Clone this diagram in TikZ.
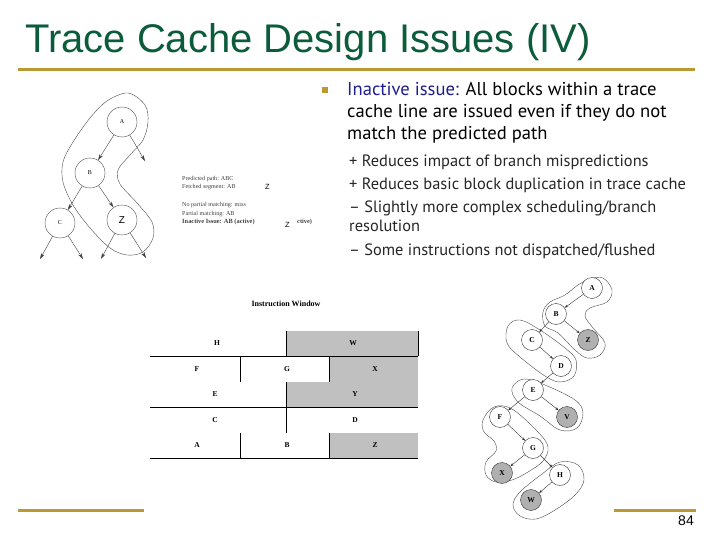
\documentclass[tikz,border=0pt]{standalone}
\usepackage{fontspec}
\setmainfont{Liberation Serif}
\newfontfamily\titlefont{Liberation Sans}
\newfontfamily\bodyfont{PT Sans}
\usetikzlibrary{arrows.meta}
\definecolor{gold}{RGB}{186,152,52}
\definecolor{titlegreen}{RGB}{10,92,58}
\definecolor{issueblue}{RGB}{30,30,140}
\definecolor{cellgray}{RGB}{192,192,192}
\definecolor{nodegray}{RGB}{176,176,176}
\begin{document}
\begin{tikzpicture}[x=1pt,y=-1pt,
  goldline/.style={gold,line width=3pt},
  bodytext/.style={anchor=base west,inner sep=0pt,font=\bodyfont\fontsize{18.6}{20}\selectfont},
  subtext/.style={anchor=base west,inner sep=0pt,text=black!85,font=\bodyfont\fontsize{16.4}{18}\selectfont},
  lcirc/.style={circle,draw=black!70,thin,minimum size=30pt,inner sep=0pt,font=\fontsize{6}{7}\selectfont},
  larr/.style={draw=black!75,thin,-{Stealth[length=6pt,width=3.5pt]},shorten >=0pt},
  outline/.style={draw=black!70,thin},
  ann/.style={anchor=base west,inner sep=0pt,text=black!75,font=\fontsize{6.1}{7}\selectfont},
  zmark/.style={anchor=base west,inner sep=0pt,font=\titlefont\fontsize{7.5}{8}\selectfont},
  rcirc/.style={circle,draw=black!80,thin,minimum size=21pt,inner sep=0pt,fill=white,font=\bfseries\fontsize{7.5}{8}\selectfont},
  rgray/.style={rcirc,fill=nodegray},
  rarr/.style={draw=black!80,thin,-{Stealth[length=3.5pt,width=2.5pt]}},
  cell/.style={inner sep=0pt,font=\bfseries\fontsize{7.5}{8}\selectfont},
  tline/.style={draw=black,line width=0.9pt}
]
\useasboundingbox (0,0) rectangle (720,540);

% title and rules
\node[anchor=base west,inner sep=0pt,text=titlegreen,font=\titlefont\fontsize{40}{42}\selectfont] (title) at (25,53) {Trace Cache Design Issues (IV)};
\draw[goldline] (18,70) -- (695,70);
\draw[goldline] (18,510) -- (144,510);
\draw[goldline] (614,510) -- (696,510);
\node[anchor=base east,inner sep=0pt,font=\titlefont\fontsize{14}{14}\selectfont] (pnum) at (694,525) {84};

% bullet text
\fill[gold] (322,87) rectangle (328,93);
\node[bodytext] (l1) at (347,96) {\textcolor{issueblue}{Inactive issue:} All blocks within a trace};
\node[bodytext] (l2) at (347,118) {cache line are issued even if they do not};
\node[bodytext] (l3) at (347,140) {match the predicted path};
\node[subtext] (s1) at (349,167) {+ Reduces impact of branch mispredictions};
\node[subtext] (s2) at (349,190) {+ Reduces basic block duplication in trace cache};
\node[subtext] (s3) at (349,212) {– Slightly more complex scheduling/branch};
\node[subtext] (s4) at (349,232) {resolution};
\node[subtext] (s5) at (349,255) {– Some instructions not dispatched/flushed};

% left tree
\node[lcirc] (lA) at (122,122) {A};
\node[lcirc] (lB) at (90,173) {B};
\node[lcirc] (lC) at (60,223) {C};
\node[lcirc,font=\titlefont\fontsize{10}{10}\selectfont] (lZ) at (122,220) {Z};
\coordinate (lAo) at (145,161);
\coordinate (lC1) at (40,259);
\coordinate (lC2) at (83,259);
\coordinate (lZ1) at (101,259);
\coordinate (lZ2) at (146,258);
\draw[larr] (lA) -- (lB);
\draw[larr] (lA) -- (lAo);
\draw[larr] (lB) -- (lC);
\draw[larr] (lB) -- (lZ);
\draw[larr] (lC) -- (lC1);
\draw[larr] (lC) -- (lC2);
\draw[larr] (lZ) -- (lZ1);
\draw[larr] (lZ) -- (lZ2);
\draw[outline] plot[smooth cycle,tension=0.55] coordinates {
 (128,93) (145,105) (148,122) (143,140) (130,155) (118,170) (120,184)
 (137,203) (152,222) (153,238) (143,252) (127,255) (110,248) (90,228)
 (73,205) (63,182) (63,162) (73,142) (90,118) (107,101)};

% annotation text
\node[ann] (p1) at (182,181) {Predicted path: ABC};
\node[ann] (p2) at (182,189) {Fetched segment: AB};
\node[zmark] (z1) at (265,190) {Z};
\node[ann] (p3) at (182,207) {No partial matching: miss};
\node[ann] (p4) at (182,215) {Partial matching: AB};
\node[ann,font=\bfseries\fontsize{6.4}{7}\selectfont] (p5) at (182,224) {Inactive Issue: AB (active)};
\node[zmark] (z2) at (285,228) {Z};
\node[ann,font=\bfseries\fontsize{6.4}{7}\selectfont] (p6) at (297,224) {ctive)};

% instruction window
\node[inner sep=0pt,font=\bfseries\fontsize{8}{9}\selectfont] (iw) at (286,304) {Instruction Window};
\fill[cellgray] (286,331) rectangle (418,356);
\fill[cellgray] (329,356) rectangle (418,382);
\fill[cellgray] (286,382) rectangle (418,407);
\fill[cellgray] (329,433) rectangle (418,458);
\draw[tline] (150,356) -- (418,356);
\draw[tline] (150,407) -- (418,407);
\draw[tline] (150,458) -- (418,458);
\draw[tline] (286,331) -- (286,356);
\draw[tline] (240,356) -- (240,382);
\draw[tline] (329,356) -- (329,382);
\draw[tline] (286,382) -- (286,433);
\draw[tline] (240,433) -- (240,458);
\draw[tline] (329,433) -- (329,458);
\draw[tline] (418,331) -- (418,356);
\node[cell] (tH) at (217,343) {H};
\node[cell] (tW) at (353,343) {W};
\node[cell] (tF) at (197,369) {F};
\node[cell] (tG) at (287,369) {G};
\node[cell] (tX) at (375,369) {X};
\node[cell] (tE) at (215,394) {E};
\node[cell] (tY) at (355,394) {Y};
\node[cell] (tC) at (215,420) {C};
\node[cell] (tD) at (355,420) {D};
\node[cell] (tA) at (197,445) {A};
\node[cell] (tB) at (287,445) {B};
\node[cell] (tZ) at (375,445) {Z};

% right tree outlines
\draw[outline] plot[smooth cycle,tension=0.6] coordinates {
 (590,279) (603,278) (612,290) (607,302) (590,308) (585,316) (593,328)
 (605,343) (600,355) (587,358) (575,350) (558,333) (545,326) (543,312)
 (550,302) (565,295) (578,285)};
\draw[outline] plot[smooth cycle,tension=0.6] coordinates {
 (508,326) (520,320) (540,330) (565,348) (576,360) (574,376) (560,382)
 (545,376) (520,357) (507,343)};
\draw[outline] plot[smooth cycle,tension=0.6] coordinates {
 (512,388) (524,379) (545,385) (575,400) (583,413) (577,428) (560,430)
 (540,416) (518,402)};
\draw[outline] plot[smooth cycle,tension=0.6] coordinates {
 (483,420) (494,407) (512,409) (538,432) (548,447) (543,461) (528,472)
 (512,480) (496,482) (486,475) (486,462) (496,451) (494,441) (484,432)};
\draw[outline] plot[smooth cycle,tension=0.6] coordinates {
 (560,462) (578,465) (584,480) (575,495) (555,510) (536,519) (520,516)
 (513,505) (520,492) (542,474)};

% right tree nodes
\node[rcirc] (rA) at (592,288) {A};
\node[rcirc] (rB) at (556,314) {B};
\node[rgray] (rZ) at (588,340) {Z};
\node[rcirc] (rC) at (532,340) {C};
\node[rcirc] (rD) at (561,366) {D};
\node[rcirc] (rE) at (533,390) {E};
\node[rgray] (rV) at (567,417) {V};
\node[rcirc] (rF) at (500,417) {F};
\node[rcirc] (rG) at (533,448) {G};
\node[rgray] (rX) at (502,473) {X};
\node[rcirc] (rH) at (560,475) {H};
\node[rgray] (rW) at (531,500) {W};
\draw[rarr] (rA) -- (rB);
\draw[rarr] (rB) -- (rC);
\draw[rarr] (rB) -- (rZ);
\draw[rarr] (rC) -- (rD);
\draw[rarr] (rD) -- (rE);
\draw[rarr] (rE) -- (rF);
\draw[rarr] (rE) -- (rV);
\draw[rarr] (rF) -- (rG);
\draw[rarr] (rG) -- (rX);
\draw[rarr] (rG) -- (rH);
\draw[rarr] (rH) -- (rW);
\end{tikzpicture}
\end{document}
